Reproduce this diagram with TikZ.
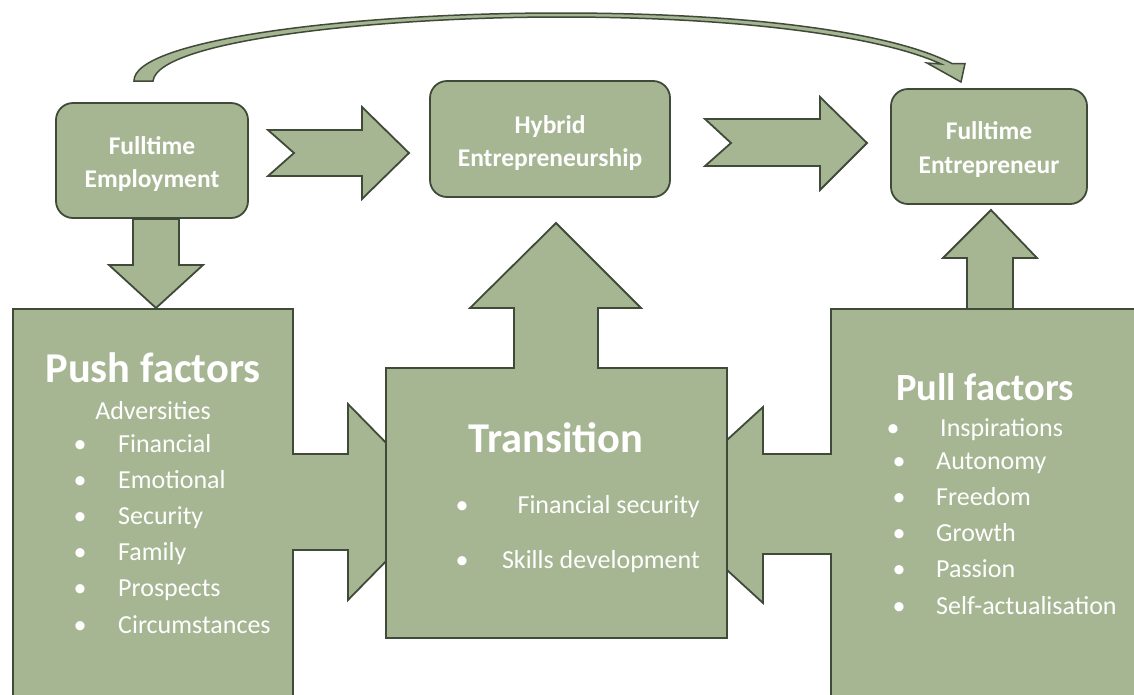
\documentclass[tikz,border=0pt]{standalone}
\usepackage{fontspec}
\setmainfont{Carlito}
\usetikzlibrary{backgrounds}
\definecolor{sage}{HTML}{A6B592}
\definecolor{sageline}{HTML}{3F4B38}
\begin{document}
\begin{tikzpicture}[x=1pt,y=-1pt,
  blockfill/.style={fill=sage,draw=sageline,line width=1.8pt,line join=miter},
  stage/.style={blockfill,rounded corners=17pt,inner sep=0pt},
  stagetext/.style={text=white,inner sep=0pt,anchor=base,font=\bfseries\fontsize{25.5}{30}\selectfont},
  heading/.style={text=white,inner sep=0pt,anchor=base,font=\bfseries\fontsize{42.5}{48}\selectfont},
  item/.style={text=white,inner sep=0pt,anchor=base west,font=\fontsize{26}{30}\selectfont},
  dot/.style={text=white,inner sep=0pt,anchor=base,font=\fontsize{26}{30}\selectfont}]

\useasboundingbox (0,0) rectangle (1134,694);
\clip (0,0) rectangle (1134,694);

% the three career stages
\node[stage,minimum width=192pt,minimum height=115pt] (fe)   at (152,160.5) {};
\node[stage,minimum width=240pt,minimum height=116pt] (hyb)  at (550,139)   {};
\node[stage,minimum width=196pt,minimum height=115pt] (fent) at (989,146.5) {};
\node[stagetext] (fe1)   at (152,154) {Fulltime};
\node[stagetext] (fe2)   at (152,187) {Employment};
\node[stagetext] (hyb1)  at (550,133) {Hybrid};
\node[stagetext] (hyb2)  at (550,166) {Entrepreneurship};
\node[stagetext] (fent1) at (989,139) {Fulltime};
\node[stagetext] (fent2) at (989,173) {Entrepreneur};

\begin{pgfonlayer}{background}
  % long curved arrow from employment straight to entrepreneur
  \filldraw[blockfill,line width=1.5pt]
    (134,81) .. controls (133,40) and (350,13) .. (560,13)
    .. controls (760,13) and (895,34) .. (952,63.5)
    -- (965,63.5) -- (961,82) -- (927,63) -- (941,64)
    .. controls (885,38) and (750,17) .. (560,17)
    .. controls (380,17) and (158,40) .. (153,81) -- cycle;

  % down arrow into the push factors
  \filldraw[blockfill] (133,219) -- (179,219) -- (179,265) -- (203,265)
    -- (156,308) -- (109,265) -- (133,265) -- cycle;

  % push factors box with its arrow towards the transition
  \filldraw[blockfill] (13,309) -- (293,309) -- (293,454) -- (348,454) -- (348,404)
    -- (444,502) -- (348,600) -- (348,550) -- (293,550) -- (293,700) -- (13,700) -- cycle;

  % pull factors box with its arrow towards the transition
  \filldraw[blockfill] (1140,309) -- (831,309) -- (831,454) -- (763,454) -- (763,407)
    -- (656,505) -- (763,603) -- (763,554) -- (831,554) -- (831,700) -- (1140,700) -- cycle;
\end{pgfonlayer}

% notched arrows between the stages
\filldraw[blockfill] (268,130) -- (362,130) -- (362,107) -- (409,153) -- (362,199)
  -- (362,176) -- (268,176) -- (294,153) -- cycle;
\filldraw[blockfill] (705,119) -- (820,119) -- (820,97) -- (867,143) -- (820,190)
  -- (820,166) -- (705,166) -- (731,143) -- cycle;

% transition box with its arrow up to hybrid entrepreneurship
\filldraw[blockfill] (386,368) -- (514,368) -- (514,308) -- (470,308) -- (556,223)
  -- (641,308) -- (598,308) -- (598,368) -- (727,368) -- (727,638) -- (386,638) -- cycle;

% up arrow from the pull factors
\filldraw[blockfill] (967,309) -- (967,258) -- (943,258) -- (991,210) -- (1037,258)
  -- (1013,258) -- (1013,309) -- cycle;

% push factors
\node[heading] (pushT) at (153,382) {Push factors};
\node[text=white,inner sep=0pt,anchor=base,font=\fontsize{26}{30}\selectfont] (adv) at (153,419) {Adversities};
\foreach \t [count=\i] in {Financial,Emotional,Security,Family,Prospects,Circumstances}{
  \node[dot]  (pushd\i) at (80,452+36.2*\i-36.2) {\textbullet};
  \node[item] (push\i)  at (118,452+36.2*\i-36.2) {\t};
}

% transition
\node[heading] (transT) at (556,452) {Transition};
\node[dot] (trd1) at (462,513) {\textbullet};
\node[item,anchor=base east] (tr1) at (700,513) {Financial security};
\node[dot] (trd2) at (462,568) {\textbullet};
\node[item,anchor=base east] (tr2) at (700,568) {Skills development};

% pull factors
\node[heading,font=\bfseries\fontsize{38.5}{44}\selectfont] (pullT) at (985,400) {Pull factors};
\node[dot]  (pulld1) at (893,436) {\textbullet};
\node[item] (pull1)  at (940,436) {Inspirations};
\foreach \t/\y [count=\i from 2] in {Autonomy/469,Freedom/505,Growth/541,Passion/577,Self-actualisation/614}{
  \node[dot]  (pulld\i) at (899,\y) {\textbullet};
  \node[item] (pull\i)  at (936,\y) {\t};
}
\end{tikzpicture}
\end{document}
